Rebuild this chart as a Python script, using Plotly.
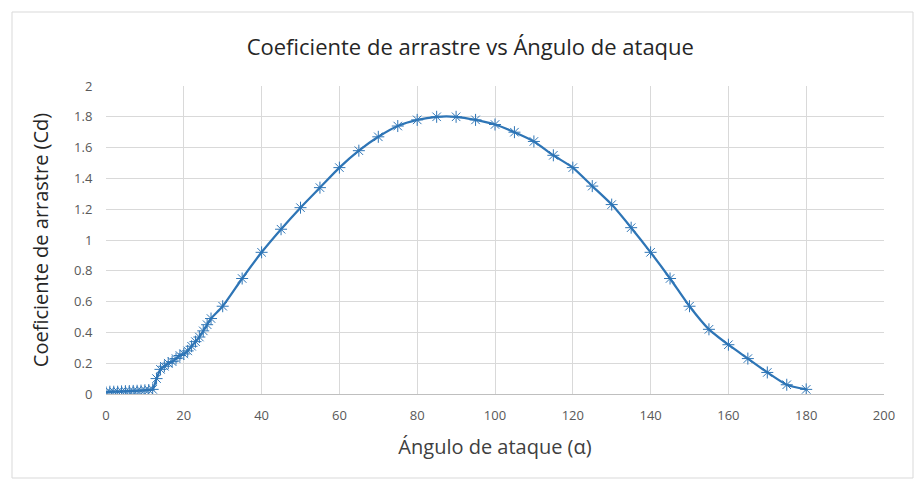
import plotly.graph_objects as go

alpha = [0, 1, 2, 3, 4, 5, 6, 7, 8, 9, 10, 11, 12, 13, 14, 15, 16, 17, 18, 19, 20,
         21, 22, 23, 24, 25, 26, 27, 30, 35, 40, 45, 50, 55, 60, 65, 70, 75, 80, 85,
         90, 95, 100, 105, 110, 115, 120, 125, 130, 135, 140, 145, 150, 155, 160,
         165, 170, 175, 180]
cd = [0.01, 0.015, 0.015, 0.015, 0.017, 0.018, 0.019, 0.02, 0.021, 0.022, 0.024,
      0.026, 0.03, 0.1, 0.16, 0.18, 0.2, 0.21, 0.23, 0.25, 0.26, 0.28, 0.31, 0.34,
      0.37, 0.41, 0.45, 0.49, 0.57, 0.75, 0.92, 1.07, 1.21, 1.34, 1.47, 1.58, 1.67,
      1.74, 1.78, 1.80, 1.80, 1.78, 1.75, 1.70, 1.64, 1.55, 1.47, 1.35, 1.23, 1.08,
      0.92, 0.75, 0.57, 0.42, 0.32, 0.23, 0.14, 0.06, 0.03]

title = "Coeficiente de arrastre vs Ángulo de ataque"
x_title = "Ángulo de ataque (α)"
y_title = "Coeficiente de arrastre (Cd)"

blue = "#2E75B6"
fig = go.Figure()
fig.add_trace(go.Scatter(
    x=alpha, y=cd, mode="lines+markers",
    line=dict(color=blue, width=2.25, shape="spline", smoothing=0.6),
    marker=dict(symbol="asterisk-open", size=10, color=blue,
                line=dict(color=blue, width=1)),
    showlegend=False,
))

font_family = "Open Sans, Noto Sans, sans-serif"
fig.update_layout(
    width=915, height=480,
    margin=dict(l=106, r=31, t=86, b=86),
    paper_bgcolor="white", plot_bgcolor="white",
    title=dict(text=title, x=0.514, xanchor="center", y=1 - 47 / 480, yanchor="middle",
               font=dict(family=font_family, size=22, color="#262626")),
    font=dict(family=font_family, color="#595959"),
    shapes=[dict(type="rect", xref="paper", yref="paper",
                 x0=-94 / 778, x1=(913 - 106) / 778,
                 y0=-(478 - 394) / 308, y1=(394 - 12) / 308,
                 line=dict(color="#d9d9d9", width=1), layer="below")],
)
fig.update_xaxes(range=[0, 200], dtick=20, showgrid=True, gridcolor="#d9d9d9",
                 gridwidth=1, zeroline=False, showline=True, linecolor="#bfbfbf",
                 ticks="outside", ticklen=9, tickcolor="rgba(0,0,0,0)",
                 tickfont=dict(size=13, color="#595959"),
                 title=dict(text=x_title, font=dict(size=20, color="#404040"), standoff=17))
fig.update_yaxes(range=[0, 2], dtick=0.2, showgrid=True, gridcolor="#d9d9d9",
                 gridwidth=1, zeroline=False, showline=False,
                 ticks="outside", ticklen=10, tickcolor="rgba(0,0,0,0)",
                 tickformat="~g",
                 tickfont=dict(size=13, color="#595959"),
                 title=dict(text=y_title, font=dict(size=20, color="#262626"), standoff=20))

fig.write_html("out.html")
